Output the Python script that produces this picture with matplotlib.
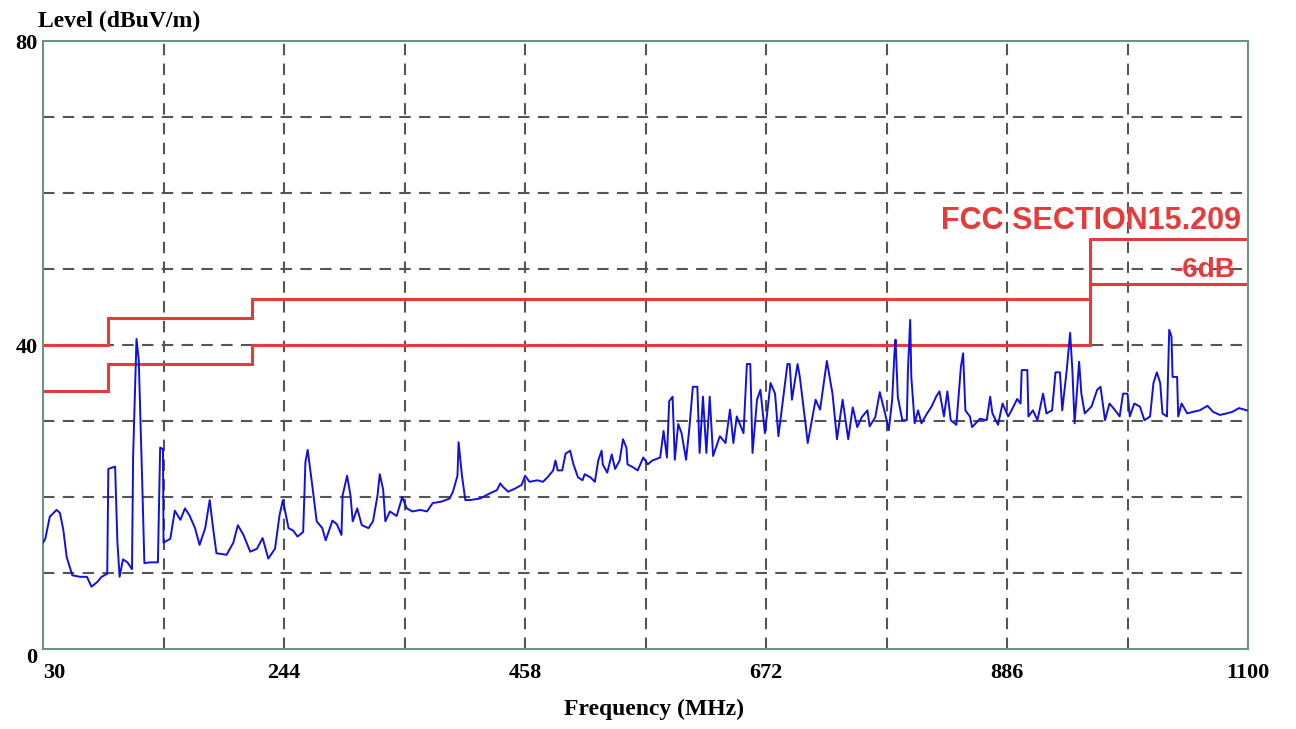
import matplotlib
matplotlib.use("Agg")
import matplotlib.pyplot as plt

freq_mhz = [
	30, 32, 36, 42, 45, 48, 51, 56, 63, 69, 73, 78, 82, 87, 88, 94, 96, 98, 101, 105,
	109, 110, 113, 115, 118, 120, 125, 132, 134, 136.5, 137, 143, 147, 152, 156, 160, 165, 169, 174, 178,
	181, 184, 193, 199, 203, 208, 214,
	220, 225, 230, 236, 240, 243, 248, 252, 256, 261, 263, 265, 269, 273, 278, 281, 287, 291, 295, 296,
	300, 303, 305, 309, 313, 319, 323, 327, 329, 332, 334, 338, 344, 349, 353, 358, 365, 371, 376, 384,
	391, 394, 398, 399, 402, 405,
	409, 418, 427, 433, 436, 438, 443, 449, 455, 458, 462, 469, 474, 478, 483, 485, 487, 491, 494, 498,
	501, 505, 509, 511, 516, 520, 523, 526, 527, 531, 535, 538, 542, 545, 548, 549, 554, 558, 563, 567,
	571, 578, 581, 584,
	586, 589, 591, 594, 597, 601, 604, 607, 611, 613, 616, 619, 622, 625, 631, 636, 640, 643, 646, 652,
	655, 658, 660, 664, 667, 671, 676, 680, 683, 691, 693, 695, 700, 702, 707, 709, 716, 720, 726, 731,
	735, 740, 745, 749, 753, 757, 762, 764, 769, 773, 778,
	781, 784, 786, 787, 789, 793, 797, 798, 800, 801, 804, 807, 810, 815, 819, 823, 826, 830, 833, 836,
	841, 845, 847, 849, 853, 855, 862, 868, 871, 873, 878, 882, 887, 890, 895, 898, 899, 904, 905, 909,
	913, 918, 921, 926, 929, 933, 935, 939, 942, 944, 946, 950, 952, 955, 961, 966,
	969, 973, 977, 982, 986, 989, 993, 995, 999, 1004, 1008, 1013, 1016, 1019, 1022, 1024, 1028, 1030, 1032, 1033,
	1037, 1038, 1041, 1046, 1051, 1057, 1064, 1069, 1075, 1081, 1086, 1092, 1099,
]
level_dbuv = [
	14.0, 14.5, 17.4, 18.3, 17.9, 15.7, 12.1, 9.7, 9.5, 9.5, 8.2, 8.8, 9.5, 9.9, 23.7, 24.0, 14.2, 9.5, 11.8, 11.4,
	10.5, 25.4, 40.8, 38.0, 22.3, 11.3, 11.4, 11.4, 26.5, 26.3, 14.0, 14.5, 18.2, 17.0, 18.5, 17.6, 15.9, 13.7, 15.9, 19.6,
	15.9, 12.6, 12.4, 14.0, 16.3, 15.0, 12.8,
	13.2, 14.6, 11.9, 13.2, 17.6, 19.6, 15.9, 15.6, 14.8, 15.4, 24.6, 26.2, 21.6, 16.8, 15.9, 14.3, 16.9, 16.4, 15.0, 20.2,
	22.8, 20.2, 16.8, 18.5, 16.3, 15.9, 16.8, 20.2, 23.0, 21.0, 16.8, 18.1, 17.5, 20.0, 18.5, 18.1, 18.3, 18.1, 19.2, 19.4,
	19.8, 20.7, 22.8, 27.2, 22.8, 19.6,
	19.6, 19.8, 20.5, 20.9, 21.8, 21.4, 20.7, 21.1, 21.6, 22.8, 22.0, 22.2, 22.0, 22.6, 23.5, 24.8, 23.5, 23.5, 25.7, 26.1,
	24.3, 22.6, 22.2, 23.0, 22.6, 22.0, 24.8, 26.1, 24.3, 23.2, 25.6, 23.7, 24.8, 27.6, 26.5, 24.3, 23.9, 23.5, 25.2, 24.3,
	24.8, 25.2, 28.7, 25.2,
	32.6, 33.2, 24.9, 29.6, 28.4, 24.9, 29.2, 34.5, 34.5, 25.8, 33.2, 25.8, 33.2, 25.4, 28.0, 27.1, 31.5, 27.1, 30.6, 28.4,
	37.5, 37.5, 25.8, 32.8, 34.1, 28.4, 35.0, 33.6, 28.0, 37.5, 37.5, 32.8, 37.5, 35.8, 29.7, 27.1, 32.8, 31.5, 37.9, 33.6,
	27.6, 32.8, 27.6, 31.8, 29.2, 30.5, 31.4, 29.3, 30.5, 33.8, 30.8,
	28.8, 32.8, 38.9, 40.7, 33.2, 30.1, 30.1, 36.7, 43.3, 35.8, 29.7, 31.4, 29.7, 31.0, 31.9, 33.2, 33.9, 30.6, 33.9, 30.1,
	29.5, 37.1, 38.9, 31.4, 30.6, 29.2, 30.3, 30.1, 33.2, 31.0, 29.5, 32.3, 30.6, 31.4, 32.9, 32.3, 36.7, 36.7, 30.6, 31.4,
	30.1, 33.6, 31.0, 31.4, 36.4, 36.4, 31.4, 36.7, 41.6, 36.7, 29.7, 37.8, 33.6, 31.0, 31.9, 34.1,
	34.5, 30.1, 32.3, 31.4, 30.6, 33.6, 33.6, 30.6, 32.3, 31.9, 30.1, 30.6, 35.0, 36.4, 35.0, 31.0, 30.6, 42.0, 41.1, 35.8,
	35.8, 30.6, 32.3, 31.0, 31.2, 31.4, 32.0, 31.2, 30.8, 31.0, 31.2, 31.7, 31.4,
]

# FCC 15.209 limit and the -6dB margin line
limit_edges = [30, 88, 216, 960, 1100]
limit_levels = [40, 43.5, 46, 54]
margin_db = 6

x_ticks = [30, 244, 458, 672, 886, 1100]
y_ticks = [0, 40, 80]

serif = ["Liberation Serif", "DejaVu Serif"]
sans = ["Liberation Sans", "DejaVu Sans"]
red = "#e63b3b"
frame = "#6a9483"


def run():
	fig = plt.figure(figsize=(12.96, 7.29), dpi=100)
	ax = fig.add_axes([0.0332, 0.1097, 0.9298, 0.8341])

	ax.set_xlim(30, 1100)
	ax.set_ylim(0, 80)

	# dashed grid, every half x-step and every 10 dB
	for gx in range(137, 1100, 107):
		ax.axvline(gx, color="#555555", lw=1.5, ls=(0, (5.5, 4)), zorder=1)
	for gy in range(10, 80, 10):
		ax.axhline(gy, color="#555555", lw=1.5, ls=(0, (5.5, 4)), zorder=1)

	upper = limit_levels
	lower = [v - margin_db for v in limit_levels]
	ax.stairs(upper, limit_edges, color=red, lw=2.2, baseline=None, zorder=2)
	ax.stairs(lower, limit_edges, color=red, lw=2.2, baseline=None, zorder=2)

	ax.plot(freq_mhz, level_dbuv, color="#1010e0", lw=1.4, zorder=3)

	ax.text(1094, 56.3, "FCC SECTION15.209", color=red, fontsize=22, fontweight="bold",
		family=sans, ha="right", va="center")
	ax.text(1089, 49.9, "-6dB", color=red, fontsize=20, fontweight="bold",
		family=sans, ha="right", va="center")

	for s in ax.spines.values():
		s.set_color(frame)
		s.set_linewidth(1.5)
	ax.set_xticks([])
	ax.set_yticks([])

	# tick labels placed like the original instrument software
	for i, t in enumerate(x_ticks):
		ha = "left" if i == 0 else "center"
		ax.text(t, -1.8, str(t), ha=ha, va="top", fontsize=16, fontweight="bold", family=serif)
	for t in y_ticks:
		yy = t - 1.2 if t == 0 else t - 0.4
		ax.text(25, yy, str(t), ha="right", va="center", fontsize=16, fontweight="bold", family=serif)

	fig.text(0.0293, 0.97, "Level (dBuV/m)", ha="left", va="center", fontsize=17,
		fontweight="bold", family=serif)
	fig.text(0.505, 0.027, "Frequency (MHz)", ha="center", va="center", fontsize=17,
		fontweight="bold", family=serif)

	fig.savefig("out.png", dpi=100, facecolor="white")


if __name__ == "__main__":
	run()
